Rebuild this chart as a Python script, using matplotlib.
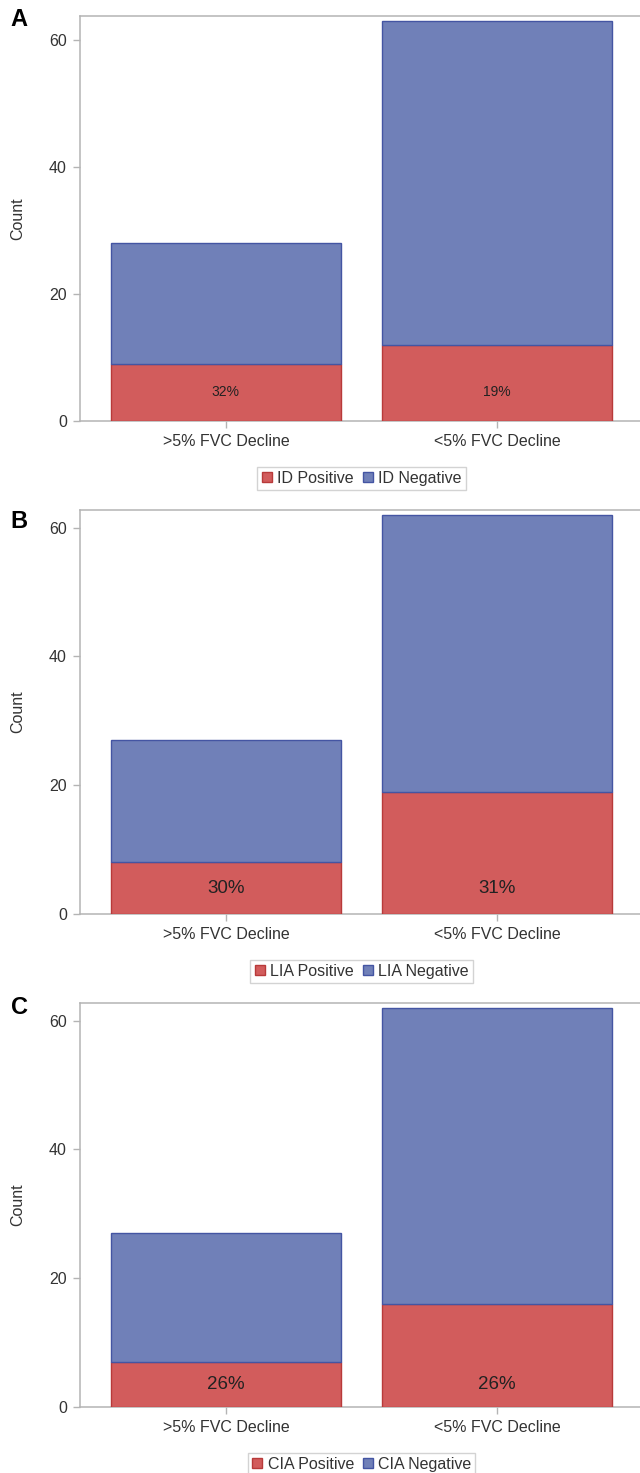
import numpy as np
import matplotlib.pyplot as plt
from matplotlib.lines import Line2D

plt.rcParams['font.family'] = ['Liberation Sans', 'DejaVu Sans']

# data
categories = ['>5% FVC Decline', '<5% FVC Decline']
panel_letters = ['A', 'B', 'C']
markers = ['ID', 'LIA', 'CIA']
positive_a = [9, 12]
negative_a = [19, 51]
positive_b = [8, 19]
negative_b = [19, 43]
positive_c = [7, 16]
negative_c = [20, 46]
y_ticks = [0, 20, 40, 60]

positives = [positive_a, positive_b, positive_c]
negatives = [negative_a, negative_b, negative_c]

RED = '#d25c5c'
RED_EDGE = '#b83a3a'
BLUE = '#7080b8'
BLUE_EDGE = '#4455a3'
GRID_GRAY = '#b4b4b4'
TEXT = '#333333'

W, H = 640, 1473
fig = plt.figure(figsize=(W / 100, H / 100), dpi=100)


def px_box(left, top, right, bottom):
    return [left / W, 1 - bottom / H, (right - left) / W, (bottom - top) / H]


# pixel layout of each panel: (frame top, zero line), letter y, label size
frames = [(16, 421), (510, 914), (1003, 1407)]
letter_y = [20, 521, 1007]
pct_sizes = [10, 13.5, 13.5]

for i in range(3):
    top, bottom = frames[i]
    pos = np.array(positives[i])
    neg = np.array(negatives[i])
    total = pos + neg
    x = np.arange(len(categories))

    ax = fig.add_axes(px_box(80, top, 643, bottom))
    ax.bar(x, pos, width=0.847, color=RED, edgecolor=RED_EDGE, linewidth=1, zorder=3)
    ax.bar(x, neg, bottom=pos, width=0.847, color=BLUE, edgecolor=BLUE_EDGE,
           linewidth=1, zorder=3)

    pct = np.round(100 * pos / total).astype(int)
    for xi, p in zip(x, pct):
        ax.text(xi, pos.min() / 2, f'{p}%', ha='center', va='center',
                fontsize=pct_sizes[i], color='#222222', zorder=4)

    ax.set_xlim(-0.538, 1.538)
    ax.set_ylim(0, total.max() * 1.012)
    ax.set_xticks(x)
    ax.set_xticklabels(categories)
    ax.set_yticks(y_ticks)

    for side in ['left', 'top', 'bottom']:
        ax.spines[side].set_color(GRID_GRAY)
        ax.spines[side].set_linewidth(1.1)
    ax.spines['right'].set_visible(False)
    ax.tick_params(axis='both', direction='out', length=5, width=1,
                   color=GRID_GRAY, labelcolor=TEXT, labelsize=11.5)
    ax.tick_params(axis='x', pad=4)
    ax.tick_params(axis='y', pad=4.5)

    fig.text(18 / W, 1 - (top + bottom) / 2 / H, 'Count', rotation=90,
             ha='center', va='center', fontsize=11.5, color=TEXT)
    fig.text(19 / W, 1 - letter_y[i] / H, panel_letters[i], ha='center',
             va='center', fontsize=17, fontweight='bold', color='black')

    handles = [
        Line2D([], [], marker='s', ls='none', markersize=6.5,
               markerfacecolor=RED, markeredgecolor=RED_EDGE),
        Line2D([], [], marker='s', ls='none', markersize=6.5,
               markerfacecolor=BLUE, markeredgecolor=BLUE_EDGE),
    ]
    labels = [f'{markers[i]} Positive', f'{markers[i]} Negative']
    leg = fig.legend(handles, labels, loc='upper center',
                     bbox_to_anchor=(361.5 / W, 1 - (bottom + 46) / H),
                     ncol=2, frameon=True, fancybox=False, fontsize=11.5,
                     handlelength=0.7, handletextpad=0.3, columnspacing=0.5,
                     borderpad=0.25, borderaxespad=0)
    leg.get_frame().set_edgecolor('#c8c8c8')
    leg.get_frame().set_linewidth(1.0)
    for t in leg.get_texts():
        t.set_color(TEXT)

fig.savefig('out.png', dpi=100)
